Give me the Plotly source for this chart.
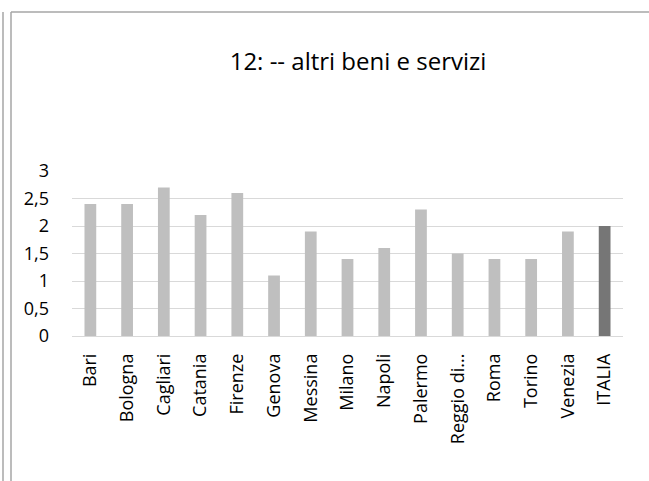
import plotly.graph_objects as go

categories = ["Bari", "Bologna", "Cagliari", "Catania", "Firenze", "Genova", "Messina",
              "Milano", "Napoli", "Palermo", "Reggio di...", "Roma", "Torino", "Venezia", "ITALIA"]
values = [2.4, 2.4, 2.7, 2.2, 2.6, 1.1, 1.9, 1.4, 1.6, 2.3, 1.5, 1.4, 1.4, 1.9, 2.0]
tick_values = [0, 0.5, 1, 1.5, 2, 2.5, 3]
tick_labels = ["0", "0,5", "1", "1,5", "2", "2,5", "3"]
title_text = "12: -- altri beni e servizi"

colors = ["#767676" if c == "ITALIA" else "#BFBFBF" for c in categories]

W, H = 649, 481
L, R, T, B = 72, 26, 171, 145
pw, ph = W - L - R, H - T - B

def px(x):
    return (x - L) / pw

def py(y):
    return (H - B - y) / ph

fig = go.Figure(go.Bar(x=categories, y=values, marker_color=colors, marker_line_width=0,
                       hoverinfo="skip"))

line = dict(color="#A6A6A6", width=1.5)
fig.update_layout(
    width=W, height=H,
    margin=dict(l=L, r=R, t=T, b=B),
    paper_bgcolor="white", plot_bgcolor="white",
    bargap=0.68,
    showlegend=False,
    font=dict(family="Open Sans", color="#000000"),
    title=dict(text=title_text, x=358 / W, xref="container", xanchor="center",
               y=1 - 62 / H, yref="container", yanchor="middle",
               font=dict(size=24, color="#000000", family="Open Sans")),
    xaxis=dict(tickangle=-90, tickfont=dict(size=18), showgrid=False, showline=False,
               ticks="", ticklabelstandoff=13),
    yaxis=dict(range=[0, 3], tickvals=tick_values, ticktext=tick_labels,
               tickfont=dict(size=18), gridcolor="#D9D9D9", gridwidth=1,
               zeroline=True, zerolinecolor="#D9D9D9", zerolinewidth=1,
               showline=False, ticks="", ticklabelstandoff=22),
    shapes=[
        dict(type="line", xref="paper", yref="paper", x0=px(3), x1=px(3), y0=py(12), y1=py(H), line=line),
        dict(type="line", xref="paper", yref="paper", x0=px(11), x1=px(11), y0=py(12), y1=py(H), line=line),
        dict(type="line", xref="paper", yref="paper", x0=px(11), x1=px(W), y0=py(12), y1=py(12), line=line),
    ],
)

fig.write_html(
    "out.html",
    config={"displayModeBar": False},
    post_script="document.body.style.margin='0';document.documentElement.style.overflow='hidden';",
)
